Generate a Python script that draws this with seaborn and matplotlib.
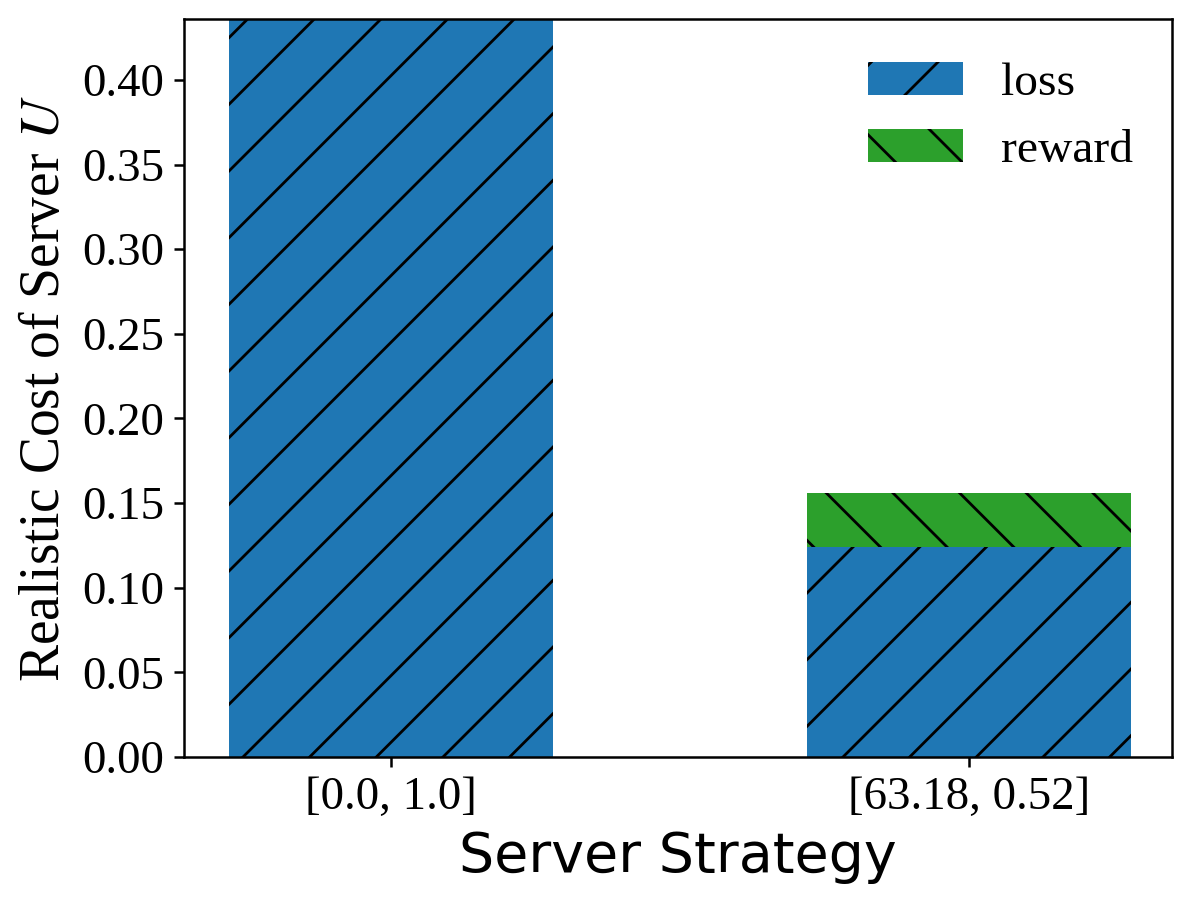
import pandas as pd
import matplotlib
matplotlib.use("Agg")
import matplotlib.pyplot as plt
from matplotlib.ticker import MultipleLocator, FormatStrFormatter
import seaborn as sns

# ── data ────────────────────────────────────────────────
strategies = ["[0.0, 1.0]", "[63.18, 0.52]"]
loss = [0.50, 0.124]
reward = [0.0, 0.032]

# ── style ───────────────────────────────────────────────
DPI = 200
W, H = 1196, 906

plt.rcParams.update({
    "font.family":       ["Liberation Serif", "DejaVu Serif"],
    "mathtext.fontset":  "stix",
    "hatch.linewidth":   1.0,
    "axes.linewidth":    0.9,
    "xtick.major.size":  3.5,
    "ytick.major.size":  3.5,
    "xtick.major.width": 0.9,
    "ytick.major.width": 0.9,
    "xtick.major.pad":   3.5,
    "ytick.major.pad":   3.5,
    "axes.labelpad":     4.0,
})

df = pd.DataFrame({"strategy": strategies, "loss": loss, "reward": reward})
df["total"] = df["loss"] + df["reward"]

fig = plt.figure(figsize=(W / DPI, H / DPI), dpi=DPI)
ax = fig.add_axes([184 / W, 1 - 757 / H, (1172 - 184) / W, (757 - 19) / H])

# reward drawn as the full stack, loss drawn over it
sns.barplot(data=df, x="strategy", y="total", color="#2ca02c", saturation=1,
            width=0.56, hatch="\\", edgecolor="black", linewidth=0,
            label="reward", ax=ax)
sns.barplot(data=df, x="strategy", y="loss", color="#1f77b4", saturation=1,
            width=0.56, hatch="/", edgecolor="black", linewidth=0,
            label="loss", ax=ax)

ax.set_xlim(-0.358, 1.351)
ax.set_ylim(0, 0.436)
ax.yaxis.set_major_locator(MultipleLocator(0.05))
ax.yaxis.set_major_formatter(FormatStrFormatter("%.2f"))
ax.tick_params(labelsize=16.9)

ax.set_xlabel("Server Strategy", fontsize=20, family="DejaVu Sans")
ax.set_ylabel(r"Realistic Cost of Server $U$", fontsize=20)

handles, labels = ax.get_legend_handles_labels()
order = [labels.index("loss"), labels.index("reward")]
ax.legend([handles[i] for i in order], [labels[i] for i in order],
          loc="upper right", bbox_to_anchor=(1.004, 1.0),
          frameon=False, fontsize=17.1)

fig.savefig("out.png", dpi=DPI)
